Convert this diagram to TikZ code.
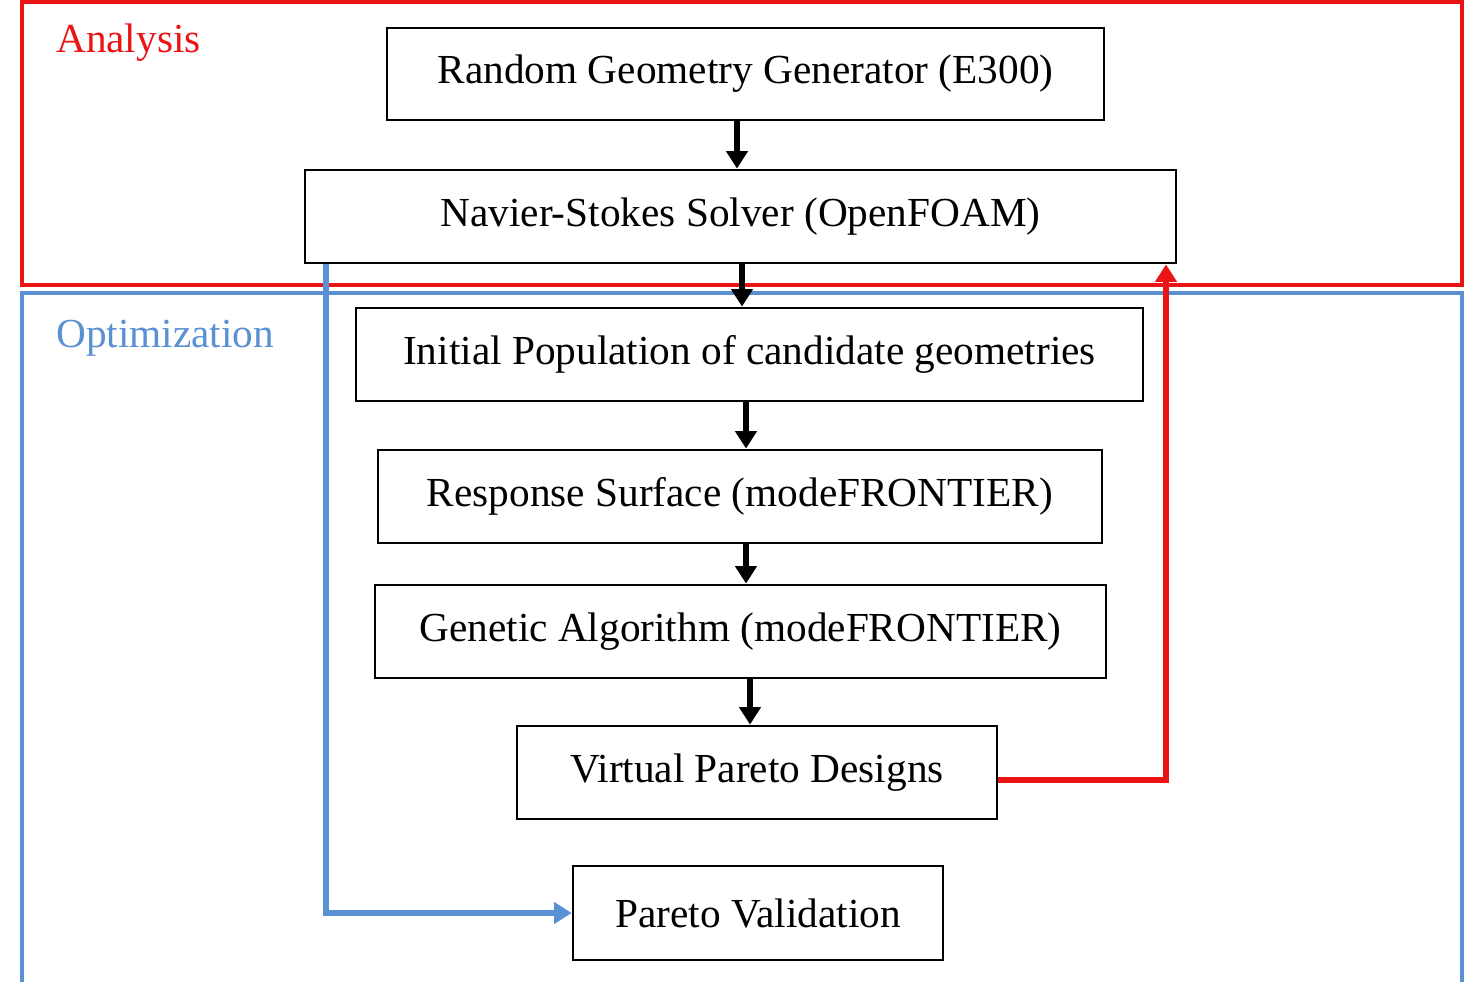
\documentclass[tikz,border=0pt]{standalone}
\usepackage{fontspec}
\setmainfont{Liberation Serif}
\usetikzlibrary{arrows.meta}
\definecolor{frameRed}{RGB}{235,20,20}
\definecolor{frameBlue}{RGB}{90,145,210}
\tikzset{
  flowbox/.style={draw, line width=1.6pt, inner sep=0pt, font=\fontsize{23.5}{28}\selectfont},
  flow/.style={line width=3pt, -{Triangle[length=10pt,width=12pt]}},
}
\begin{document}
\begin{tikzpicture}[x=0.02cm, y=-0.02cm]
    \useasboundingbox (0,0) rectangle (1478,982);
    % frames
    \draw[frameRed, line width=1.8pt] (22,2) rectangle (1462,285);
    \draw[frameBlue, line width=2.2pt] (22,982) -- (22,293) -- (1462,293) -- (1462,982);
    \node[frameRed, anchor=west, font=\fontsize{23.5}{28}\selectfont] (analysis) at (50,43) {Analysis};
    \node[frameBlue, anchor=west, font=\fontsize{23.5}{28}\selectfont] (optim) at (50,338) {Optimization};

    % steps
    \node[flowbox, minimum width=14.34cm, minimum height=1.84cm] (rgg) at (745.5,74) {Random Geometry Generator (E300)};
    \node[flowbox, minimum width=17.42cm, minimum height=1.86cm] (nss) at (740.5,216.5) {Navier-Stokes Solver (OpenFOAM)};
    \node[flowbox, minimum width=15.74cm, minimum height=1.86cm] (ipop) at (749.5,354.5) {Initial Population of candidate geometries};
    \node[flowbox, minimum width=14.48cm, minimum height=1.86cm] (rsurf) at (740,496.5) {Response Surface (modeFRONTIER)};
    \node[flowbox, minimum width=14.62cm, minimum height=1.86cm] (galg) at (740.5,631.5) {Genetic Algorithm (modeFRONTIER)};
    \node[flowbox, minimum width=9.6cm, minimum height=1.86cm] (vpd) at (757,772.5) {Virtual Pareto Designs};
    \node[flowbox, minimum width=7.4cm, minimum height=1.88cm] (pval) at (758,913) {Pareto Validation};

    % flow
    \draw[flow] (rgg.south -| 737,0) -- (nss.north -| 737,0);
    \draw[flow] (nss.south -| 742,0) -- (ipop.north -| 742,0);
    \draw[flow] (ipop.south -| 746,0) -- (rsurf.north -| 746,0);
    \draw[flow] (rsurf.south -| 746,0) -- (galg.north -| 746,0);
    \draw[flow] (galg.south -| 750,0) -- (vpd.north -| 750,0);

    \coordinate (back) at (1166,780);
    \draw[flow, frameRed, line width=3.5pt] (vpd.east |- back) -- (back) -- (back |- nss.south);
    \coordinate (down) at (326,913);
    \draw[flow, frameBlue, line width=3.5pt] (down |- nss.south) -- (down) -- (pval.west);
\end{tikzpicture}
\end{document}
